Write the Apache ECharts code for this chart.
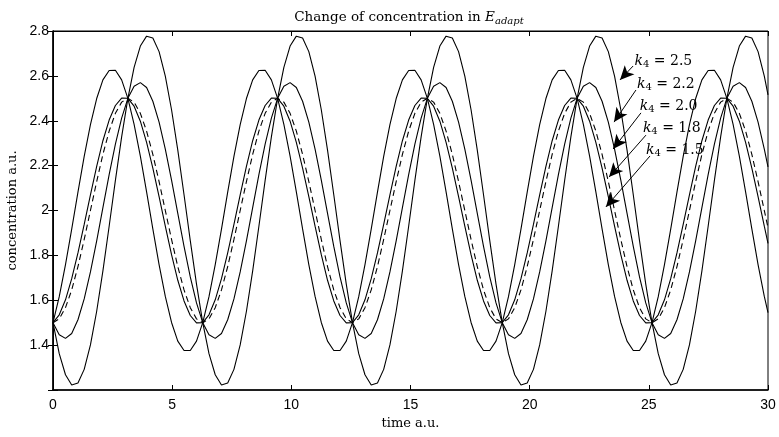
<!DOCTYPE html>
<html><head><meta charset="utf-8">
<script src="https://cdn.jsdelivr.net/npm/echarts@6/dist/echarts.min.js"></script>
<style>html,body{margin:0;padding:0;background:#fff}#c{width:779px;height:437px}</style>
</head><body><div id="c"></div>
<script>
const times = [0,0.262,0.524,0.785,1.047,1.309,1.571,1.833,2.094,2.356,2.618,2.880,
3.142,3.403,3.665,3.927,4.189,4.451,4.712,4.974,5.236,5.498,5.760,6.021,
6.283,6.545,6.807,7.069,7.330,7.592,7.854,8.116,8.378,8.639,8.901,9.163,
9.425,9.687,9.948,10.210,10.472,10.734,10.996,11.257,11.519,11.781,12.043,12.305,
12.566,12.828,13.090,13.352,13.614,13.875,14.137,14.399,14.661,14.923,15.184,15.446,
15.708,15.970,16.232,16.493,16.755,17.017,17.279,17.541,17.802,18.064,18.326,18.588,
18.850,19.111,19.373,19.635,19.897,20.159,20.420,20.682,20.944,21.206,21.468,21.729,
21.991,22.253,22.515,22.777,23.038,23.300,23.562,23.824,24.086,24.347,24.609,24.871,
25.133,25.395,25.656,25.918,26.180,26.442,26.704,26.965,27.227,27.489,27.751,28.013,
28.274,28.536,28.798,29.060,29.322,29.583,29.845,30];

const conc_k25 = [
1.5,1.362,1.268,1.222,1.231,1.292,1.401,1.551,1.731,1.930,2.134,2.328,
2.5,2.638,2.733,2.777,2.769,2.708,2.599,2.449,2.269,2.070,1.866,1.672,
1.5,1.362,1.268,1.222,1.231,1.292,1.401,1.551,1.731,1.930,2.134,2.328,
2.5,2.638,2.733,2.777,2.769,2.708,2.599,2.449,2.269,2.070,1.866,1.672,
1.5,1.362,1.268,1.222,1.231,1.292,1.401,1.551,1.731,1.930,2.134,2.328,
2.5,2.638,2.733,2.777,2.769,2.708,2.599,2.449,2.269,2.070,1.866,1.672,
1.5,1.362,1.268,1.222,1.231,1.292,1.401,1.551,1.731,1.930,2.134,2.328,
2.5,2.638,2.733,2.777,2.769,2.708,2.599,2.449,2.269,2.070,1.866,1.672,
1.5,1.362,1.268,1.222,1.231,1.292,1.401,1.551,1.731,1.930,2.134,2.328,
2.5,2.638,2.733,2.777,2.769,2.708,2.599,
2.515];
const conc_k22 = [
1.5,1.446,1.430,1.452,1.513,1.606,1.726,1.865,2.013,2.160,2.296,2.412,
2.5,2.554,2.570,2.548,2.487,2.394,2.274,2.135,1.987,1.840,1.704,1.588,
1.5,1.446,1.430,1.452,1.513,1.606,1.726,1.865,2.013,2.160,2.296,2.412,
2.5,2.554,2.570,2.548,2.487,2.394,2.274,2.135,1.987,1.840,1.704,1.588,
1.5,1.446,1.430,1.452,1.513,1.606,1.726,1.865,2.013,2.160,2.296,2.412,
2.5,2.554,2.570,2.548,2.487,2.394,2.274,2.135,1.987,1.840,1.704,1.588,
1.5,1.446,1.430,1.452,1.513,1.606,1.726,1.865,2.013,2.160,2.296,2.412,
2.5,2.554,2.570,2.548,2.487,2.394,2.274,2.135,1.987,1.840,1.704,1.588,
1.5,1.446,1.430,1.452,1.513,1.606,1.726,1.865,2.013,2.160,2.296,2.412,
2.5,2.554,2.570,2.548,2.487,2.394,2.274,
2.194];
const conc_k20 = [
1.5,1.517,1.567,1.646,1.75,1.871,2,2.129,2.25,2.354,2.433,2.483,
2.5,2.483,2.433,2.354,2.25,2.129,2,1.871,1.75,1.646,1.567,1.517,
1.5,1.517,1.567,1.646,1.75,1.871,2,2.129,2.25,2.354,2.433,2.483,
2.5,2.483,2.433,2.354,2.25,2.129,2,1.871,1.75,1.646,1.567,1.517,
1.5,1.517,1.567,1.646,1.75,1.871,2,2.129,2.25,2.354,2.433,2.483,
2.5,2.483,2.433,2.354,2.25,2.129,2,1.871,1.75,1.646,1.567,1.517,
1.5,1.517,1.567,1.646,1.75,1.871,2,2.129,2.25,2.354,2.433,2.483,
2.5,2.483,2.433,2.354,2.25,2.129,2,1.871,1.75,1.646,1.567,1.517,
1.5,1.517,1.567,1.646,1.75,1.871,2,2.129,2.25,2.354,2.433,2.483,
2.5,2.483,2.433,2.354,2.25,2.129,2,
1.923];
const conc_k18 = [
1.5,1.535,1.602,1.696,1.811,1.938,2.07,2.197,2.311,2.403,2.468,2.501,
2.5,2.465,2.398,2.304,2.189,2.062,1.93,1.803,1.689,1.597,1.532,1.499,
1.5,1.535,1.602,1.696,1.811,1.938,2.07,2.197,2.311,2.403,2.468,2.501,
2.5,2.465,2.398,2.304,2.189,2.062,1.93,1.803,1.689,1.597,1.532,1.499,
1.5,1.535,1.602,1.696,1.811,1.938,2.07,2.197,2.311,2.403,2.468,2.501,
2.5,2.465,2.398,2.304,2.189,2.062,1.93,1.803,1.689,1.597,1.532,1.499,
1.5,1.535,1.602,1.696,1.811,1.938,2.07,2.197,2.311,2.403,2.468,2.501,
2.5,2.465,2.398,2.304,2.189,2.062,1.93,1.803,1.689,1.597,1.532,1.499,
1.5,1.535,1.602,1.696,1.811,1.938,2.07,2.197,2.311,2.403,2.468,2.501,
2.5,2.465,2.398,2.304,2.189,2.062,1.93,
1.854];
const conc_k15 = [
1.5,1.616,1.759,1.917,2.082,2.241,2.383,2.499,2.582,2.624,2.625,2.582,
2.5,2.384,2.242,2.083,1.918,1.759,1.617,1.501,1.418,1.376,1.376,1.418,
1.5,1.616,1.759,1.917,2.082,2.241,2.383,2.499,2.582,2.624,2.625,2.582,
2.5,2.384,2.242,2.083,1.918,1.759,1.617,1.501,1.418,1.376,1.376,1.418,
1.5,1.616,1.759,1.917,2.082,2.241,2.383,2.499,2.582,2.624,2.625,2.582,
2.5,2.384,2.242,2.083,1.918,1.759,1.617,1.501,1.418,1.376,1.376,1.418,
1.5,1.616,1.759,1.917,2.082,2.241,2.383,2.499,2.582,2.624,2.625,2.582,
2.5,2.384,2.242,2.083,1.918,1.759,1.617,1.501,1.418,1.376,1.376,1.418,
1.5,1.616,1.759,1.917,2.082,2.241,2.383,2.499,2.582,2.624,2.625,2.582,
2.5,2.384,2.242,2.083,1.918,1.759,1.617,
1.545];

const xTicks = [0,5,10,15,20,25,30];
const yTicks = [1.4,1.6,1.8,2,2.2,2.4,2.6,2.8];

const annotLabels = ['2.5','2.2','2.0','1.8','1.5'];
const annotText = [[24.40,2.666],[24.50,2.564],[24.62,2.464],[24.75,2.366],[24.88,2.266]];
const annotArrowFrom = [[24.34,2.644],[24.46,2.537],[24.67,2.435],[24.88,2.336],[25.05,2.243]];
const annotArrowTo = [[23.79,2.582],[23.54,2.394],[23.50,2.274],[23.33,2.149],[23.20,2.016]];

const serif = '"DejaVu Serif","Liberation Serif",serif';
const sans = '"Liberation Sans",Arial,sans-serif';

function mk(arr){ return times.map((t,i)=>[t,arr[i]]); }
function curve(name, arr, dashed){
  return {name, type:'line', data: mk(arr), showSymbol:false, smooth:false,
    lineStyle:{color:'#000', width:1.1, type: dashed ? [6,4] : 'solid'}, silent:true, z:3};
}

const chart = echarts.init(document.getElementById('c'), null, {renderer:'canvas'});
chart.setOption({
  animation:false,
  backgroundColor:'#fff',
  title:{
    text:'Change of concentration in {e|E}{s|adapt}',
    left:404, textAlign:'center', top:4,
    textStyle:{fontFamily:serif, fontSize:13.5, fontWeight:'normal', color:'#000',
      rich:{e:{fontFamily:serif, fontSize:13.5, fontStyle:'italic', color:'#000'},
            s:{fontFamily:serif, fontSize:10, fontStyle:'italic', color:'#000', padding:[7,0,0,0]}}}
  },
  grid:{left:53, right:11, top:31, bottom:47, show:true, borderColor:'#000', borderWidth:1,
        containLabel:false, outerBoundsMode:'none'},
  xAxis:[{
    type:'value', min:0, max:30, interval:5, position:'bottom',
    name:'time a.u.', nameLocation:'middle', nameGap:26,
    nameTextStyle:{fontFamily:serif, fontSize:13, color:'#000'},
    axisLine:{show:true, lineStyle:{color:'#000', width:1.5}},
    axisTick:{inside:true, length:5, lineStyle:{color:'#000'}},
    axisLabel:{fontFamily:sans, fontSize:14, color:'#000', margin:8,
      formatter:v=> xTicks.indexOf(v)>=0 ? String(v) : ''},
    splitLine:{show:false}
  },{
    type:'value', min:0, max:30, interval:5, position:'top',
    axisLine:{show:true, lineStyle:{color:'#000'}},
    axisTick:{inside:true, length:5, lineStyle:{color:'#000'}},
    axisLabel:{show:false}, splitLine:{show:false}
  }],
  yAxis:[{
    type:'value', min:1.2, max:2.8, interval:0.2, position:'left',
    name:'concentration a.u.', nameLocation:'middle', nameGap:31, nameRotate:90,
    nameTextStyle:{fontFamily:serif, fontSize:13, color:'#000'},
    axisLine:{show:true, lineStyle:{color:'#000', width:1.5}},
    axisTick:{inside:true, length:5, lineStyle:{color:'#000'}},
    axisLabel:{fontFamily:sans, fontSize:14, color:'#000', margin:4,
      formatter:v=>{ const r=Math.round(v*10)/10; return yTicks.indexOf(r)>=0 ? String(r) : ''; }},
    splitLine:{show:false}
  },{
    type:'value', min:1.2, max:2.8, interval:0.2, position:'right',
    axisLine:{show:true, lineStyle:{color:'#000'}},
    axisTick:{inside:true, length:5, lineStyle:{color:'#000'}},
    axisLabel:{show:false}, splitLine:{show:false}
  }],
  series:[
    curve('k4=2.5', conc_k25, false),
    curve('k4=2.2', conc_k22, false),
    curve('k4=2.0', conc_k20, true),
    curve('k4=1.8', conc_k18, false),
    curve('k4=1.5', conc_k15, false),
    {
      type:'line', data:[], silent:true, z:5,
      markLine:{
        silent:true, animation:false,
        symbol:['none','arrow'], symbolSize:[10,14],
        lineStyle:{color:'#000', width:1, type:'solid'},
        label:{show:false},
        data: annotArrowFrom.map((f,i)=>[{coord:f},{coord:annotArrowTo[i]}])
      },
      markPoint:{
        silent:true, animation:false, symbol:'circle', symbolSize:0,
        itemStyle:{color:'transparent'},
        label:{show:true, position:'right', distance:0, color:'#000',
          fontFamily:serif, fontSize:14,
          rich:{k:{fontFamily:serif, fontSize:14, fontStyle:'italic', color:'#000'},
                n:{fontFamily:serif, fontSize:10, color:'#000', padding:[6,0,0,0]},
                t:{fontFamily:serif, fontSize:14, color:'#000'}}},
        data: annotText.map((c,i)=>({coord:c, value:annotLabels[i],
          label:{formatter:'{k|k}{n|4}{t| = '+annotLabels[i]+'}'}}))
      }
    }
  ]
});
</script></body></html>
